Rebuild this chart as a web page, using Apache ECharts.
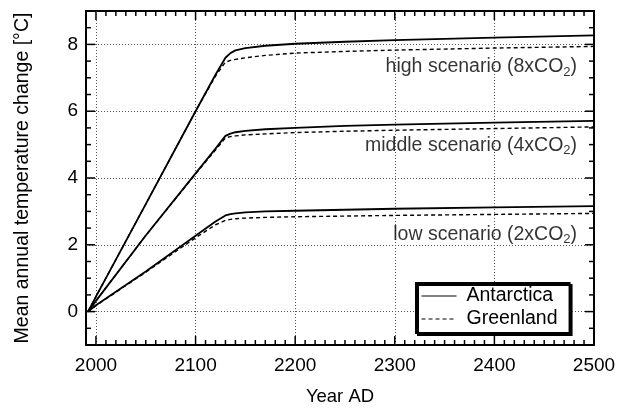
<!DOCTYPE html>
<html>
<head>
<meta charset="utf-8">
<script src="https://cdn.jsdelivr.net/npm/echarts@6/dist/echarts.min.js"></script>
<style>html,body{margin:0;padding:0;background:#fff}#c{width:623px;height:411px}</style>
</head>
<body>
<div id="c"></div>
<script>
const years = [1992, 2000, 2050, 2100, 2120, 2130, 2135, 2140, 2150, 2170, 2200, 2250, 2300, 2400, 2500];
const highAntarctica = [0, 0.45, 3.22, 6.0, 7.09, 7.6, 7.74, 7.82, 7.89, 7.96, 8.02, 8.08, 8.13, 8.2, 8.27];
const highGreenland  = [0, 0.45, 3.22, 6.0, 7.05, 7.47, 7.52, 7.55, 7.6, 7.67, 7.74, 7.79, 7.83, 7.89, 7.94];
const midAntarctica  = [0, 0.32, 2.28, 4.14, 4.88, 5.26, 5.33, 5.37, 5.41, 5.46, 5.5, 5.56, 5.6, 5.66, 5.71];
const midGreenland   = [0, 0.32, 2.28, 4.12, 4.84, 5.2, 5.24, 5.26, 5.29, 5.32, 5.36, 5.4, 5.43, 5.48, 5.53];
const lowAntarctica  = [0, 0.19, 1.2, 2.27, 2.7, 2.88, 2.92, 2.94, 2.97, 3.0, 3.02, 3.05, 3.08, 3.12, 3.16];
const lowGreenland   = [0, 0.18, 1.18, 2.21, 2.6, 2.73, 2.76, 2.78, 2.8, 2.82, 2.84, 2.86, 2.88, 2.91, 2.94];

const annoLabels = ['high scenario (8xCO', 'middle scenario (4xCO', 'low scenario (2xCO'];
const annoX = [2483, 2483, 2483];
const annoY = [7.32, 4.98, 2.31];

// tick positions (frame ticks, inside, on all four sides)
const xMajorTicks = [2000, 2100, 2200, 2300, 2400];
const xMinorTicks = [];
for (let c = 2000; c < 2500; c += 100) { for (let k = 1; k < 10; k++) xMinorTicks.push(c + 10 * k); }
const yMajorTicks = [0, 2, 4, 6, 8];
const yMinorTicks = [-0.5, 0.5, 1, 1.5, 2.5, 3, 3.5, 4.5, 5, 5.5, 6.5, 7, 7.5, 8.5];

const xMin = 1990, xMax = 2500, yMin = -1, yMax = 9;
const FONT = 'Liberation Sans, Arial, Helvetica, sans-serif';

function pair(xs, ys) { return xs.map((x, i) => [x, ys[i]]); }

const tickData = []
  .concat(xMajorTicks.map(v => [v, yMin, 0]))
  .concat(xMinorTicks.map(v => [v, yMin, 1]))
  .concat(yMajorTicks.map(v => [xMin, v, 2]))
  .concat(yMinorTicks.map(v => [xMin, v, 3]));

const chart = echarts.init(document.getElementById('c'));

const grid = {left: 86, right: 29, top: 11, bottom: 62, show: true, borderColor: '#000', borderWidth: 2, backgroundColor: 'transparent'};

const xAxis = {
  type: 'value', min: xMin, max: xMax, splitNumber: 5,
  axisLine: {show: false, onZero: false},
  axisTick: {show: false},
  axisLabel: {show: true, color: '#000', fontSize: 19, fontFamily: FONT, margin: 11,
    showMinLabel: false, showMaxLabel: true,
    formatter: v => (v % 100 === 0 ? String(v) : '')},
  splitLine: {show: true, showMinLine: false, showMaxLine: false, lineStyle: {color: '#555', type: [1, 2], width: 1}},
  name: 'Year AD', nameLocation: 'middle', nameGap: 42,
  nameTextStyle: {color: '#000', fontSize: 18.5, fontFamily: FONT}
};
const yAxis = {
  type: 'value', min: yMin, max: yMax, splitNumber: 5,
  axisLine: {show: false, onZero: false},
  axisTick: {show: false},
  axisLabel: {show: true, color: '#000', fontSize: 19, fontFamily: FONT, margin: 8,
    showMinLabel: false, showMaxLabel: false,
    formatter: v => (v >= 0 && v <= 8 && v % 2 === 0 ? String(v) : '')},
  splitLine: {show: true, showMinLine: false, showMaxLine: false, lineStyle: {color: '#555', type: [1, 2], width: 1}},
  name: 'Mean annual temperature change [°C]', nameLocation: 'middle', nameGap: 53,
  nameTextStyle: {color: '#000', fontSize: 19.5, fontFamily: FONT}
};

function solid(data) {
  return {type: 'line', name: 'Antarctica', data: data,
    symbol: 'none', smooth: false, lineStyle: {color: '#000', width: 1.8, type: 'solid'}, z: 3};
}
function dashed(data) {
  return {type: 'line', name: 'Greenland', data: data,
    symbol: 'none', smooth: false, lineStyle: {color: '#000', width: 1.4, type: [4, 3]}, z: 2};
}

const tickSeries = {
  type: 'custom', name: 'ticks', silent: true, clip: false, z: 4,
  data: tickData,
  renderItem: function (params, api) {
    const kind = api.value(2);
    const p = api.coord([api.value(0), api.value(1)]);
    const cs = params.coordSys;
    const len = (kind === 0 || kind === 2) ? 9 : 5;
    const st = {stroke: '#000', lineWidth: 1.5};
    if (kind < 2) {
      const x = p[0];
      return {type: 'group', children: [
        {type: 'line', shape: {x1: x, y1: cs.y + cs.height, x2: x, y2: cs.y + cs.height - len}, style: st},
        {type: 'line', shape: {x1: x, y1: cs.y, x2: x, y2: cs.y + len}, style: st}
      ]};
    }
    const y = p[1];
    return {type: 'group', children: [
      {type: 'line', shape: {x1: cs.x, y1: y, x2: cs.x + len, y2: y}, style: st},
      {type: 'line', shape: {x1: cs.x + cs.width, y1: y, x2: cs.x + cs.width - len, y2: y}, style: st}
    ]};
  }
};

const annoSeries = {
  type: 'scatter', name: 'anno', symbolSize: 0, silent: true,
  data: annoX.map((x, i) => ({value: [x, annoY[i]], name: annoLabels[i]})),
  label: {show: true, position: 'left', distance: 0,
    formatter: p => '{t|' + p.name + '}{s|2}{t|)}',
    rich: {
      t: {fontSize: 19.5, fontFamily: FONT, color: '#000', lineHeight: 22},
      s: {fontSize: 13, fontFamily: FONT, color: '#000', lineHeight: 22, padding: [10, 0, 0, 0]}
    }}
};

const option = {
  animation: false,
  grid: grid,
  xAxis: xAxis,
  yAxis: yAxis,
  legend: {
    data: ['Antarctica', 'Greenland'],
    orient: 'vertical', left: 416, top: 283,
    backgroundColor: '#fff', borderColor: '#000', borderWidth: 2,
    shadowColor: '#000', shadowOffsetX: 2, shadowOffsetY: 2, shadowBlur: 0,
    padding: [3, 12, 4, 5], itemGap: 3, itemWidth: 35, itemHeight: 19,
    itemStyle: {color: 'rgba(0,0,0,0)', borderWidth: 0},
    lineStyle: {width: 1},
    textStyle: {color: '#000', fontSize: 19.5, fontFamily: FONT, padding: [0, 0, 0, 5]}
  },
  series: [
    solid(pair(years, highAntarctica)), dashed(pair(years, highGreenland)),
    solid(pair(years, midAntarctica)), dashed(pair(years, midGreenland)),
    solid(pair(years, lowAntarctica)), dashed(pair(years, lowGreenland)),
    annoSeries, tickSeries
  ]
};
chart.setOption(option);
</script>
</body>
</html>
